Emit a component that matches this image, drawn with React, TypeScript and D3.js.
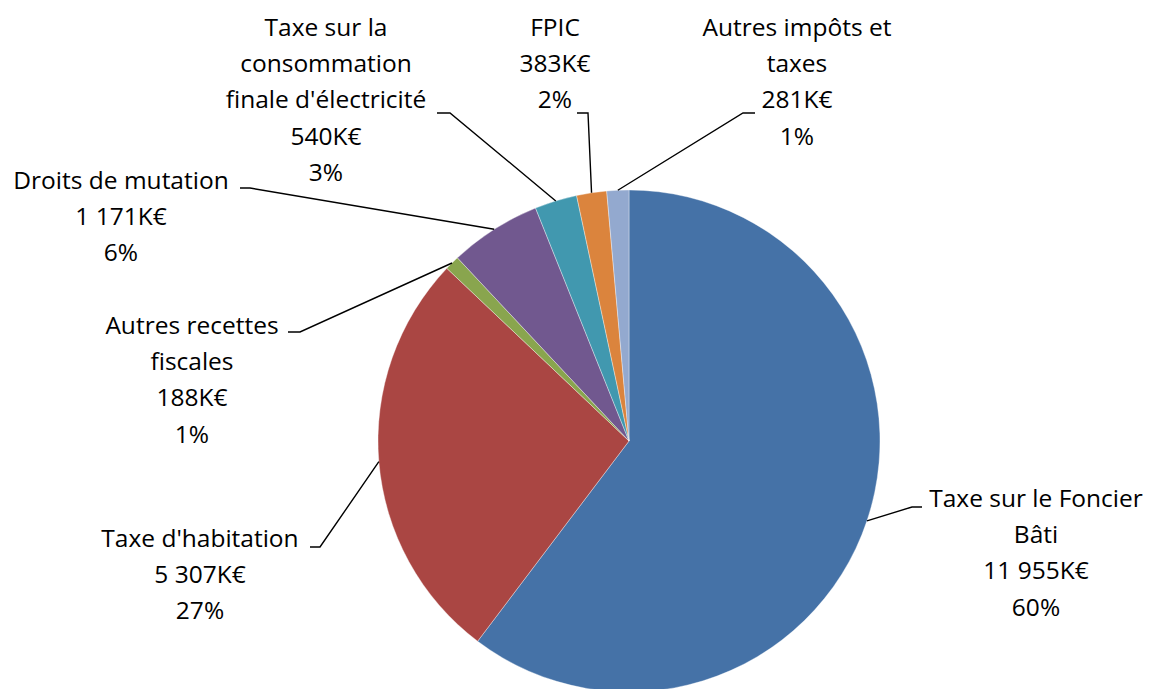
import React, { useEffect, useRef } from "react";
import * as d3 from "d3";

// recettes fiscales, en K€
const categories = [
  "Taxe sur le Foncier Bâti",
  "Taxe d'habitation",
  "Autres recettes fiscales",
  "Droits de mutation",
  "Taxe sur la consommation finale d'électricité",
  "FPIC",
  "Autres impôts et taxes",
];
const values = [11955, 5307, 188, 1171, 540, 383, 281];
const colors = ["#4572A7", "#AA4643", "#89A54E", "#71588F", "#4198AF", "#DB843D", "#93A9CF"];

// label layout: words per line, text centre, elbow / end of leader
const labelLayout = [
  { words: [4, 1], x: 1036, y: 498, elbow: [912, 507], end: [922, 507] },
  { words: [2], x: 200, y: 538, elbow: [320, 547], end: [310, 547] },
  { words: [2, 1], x: 192, y: 325, elbow: [300, 332], end: [288, 332] },
  { words: [3], x: 121, y: 180, elbow: [250, 188], end: [240, 188] },
  { words: [3, 1, 2], x: 326, y: 27, elbow: [450, 113], end: [437, 113] },
  { words: [1], x: 555, y: 27, elbow: [588, 113], end: [577, 113] },
  { words: [3, 1], x: 797, y: 27, elbow: [743, 113], end: [755, 113] },
];

const W = 1150;
const H = 689;
const cx = 629;
const cy = 441;
const R = 251;
const lineH = 36.3;

const locale = d3.formatLocale({ decimal: ",", thousands: " ", grouping: [3], currency: ["", "€"] });
const fmt = locale.format(",d");

const App = () => {
  const svgRef = useRef<SVGSVGElement>(null);

  useEffect(() => {
    const svg = d3.select(svgRef.current);
    svg.selectAll("*").remove();

    const total = d3.sum(values);
    const data = values.map((v, i) => ({ name: categories[i], value: v, i }));
    const pie = d3.pie<any>().sort(null).value((d) => d.value);
    const arcs = pie(data);
    const arc = d3.arc<any>().innerRadius(0).outerRadius(R);

    const g = svg.append("g").attr("transform", `translate(${cx},${cy})`);
    g.selectAll("path")
      .data(arcs)
      .join("path")
      .attr("d", arc)
      .attr("fill", (d) => colors[d.data.i])
      .attr("stroke", "#ffffff")
      .attr("stroke-width", 0.6)
      .attr("stroke-opacity", 0.6);

    // leaders
    arcs.forEach((a, i) => {
      const L = labelLayout[i];
      const mid = (a.startAngle + a.endAngle) / 2;
      const px = cx + R * Math.sin(mid);
      const py = cy - R * Math.cos(mid);
      svg
        .append("path")
        .attr("d", `M${px},${py}L${L.elbow[0]},${L.elbow[1]}L${L.end[0]},${L.end[1]}`)
        .attr("fill", "none")
        .attr("stroke", "#000")
        .attr("stroke-width", 1.4);
    });

    // labels
    arcs.forEach((a, i) => {
      const L = labelLayout[i];
      const words = a.data.name.split(" ");
      const lines: string[] = [];
      let k = 0;
      L.words.forEach((n) => {
        lines.push(words.slice(k, k + n).join(" "));
        k += n;
      });
      lines.push(fmt(a.data.value) + "K€");
      lines.push(Math.round((a.data.value / total) * 100) + "%");
      const t = svg
        .append("text")
        .attr("text-anchor", "middle")
        .attr("font-family", "'Open Sans', sans-serif")
        .attr("font-size", 24.5)
        .attr("fill", "#000");
      lines.forEach((s, j) => {
        t.append("tspan")
          .attr("x", L.x)
          .attr("y", L.y + j * lineH)
          .attr("dy", "0.36em")
          .text(s);
      });
    });
  }, []);

  return (
    <svg
      ref={svgRef}
      width={W}
      height={H}
      style={{ position: "absolute", left: 0, top: 0, background: "#fff" }}
    />
  );
};

export default App;
